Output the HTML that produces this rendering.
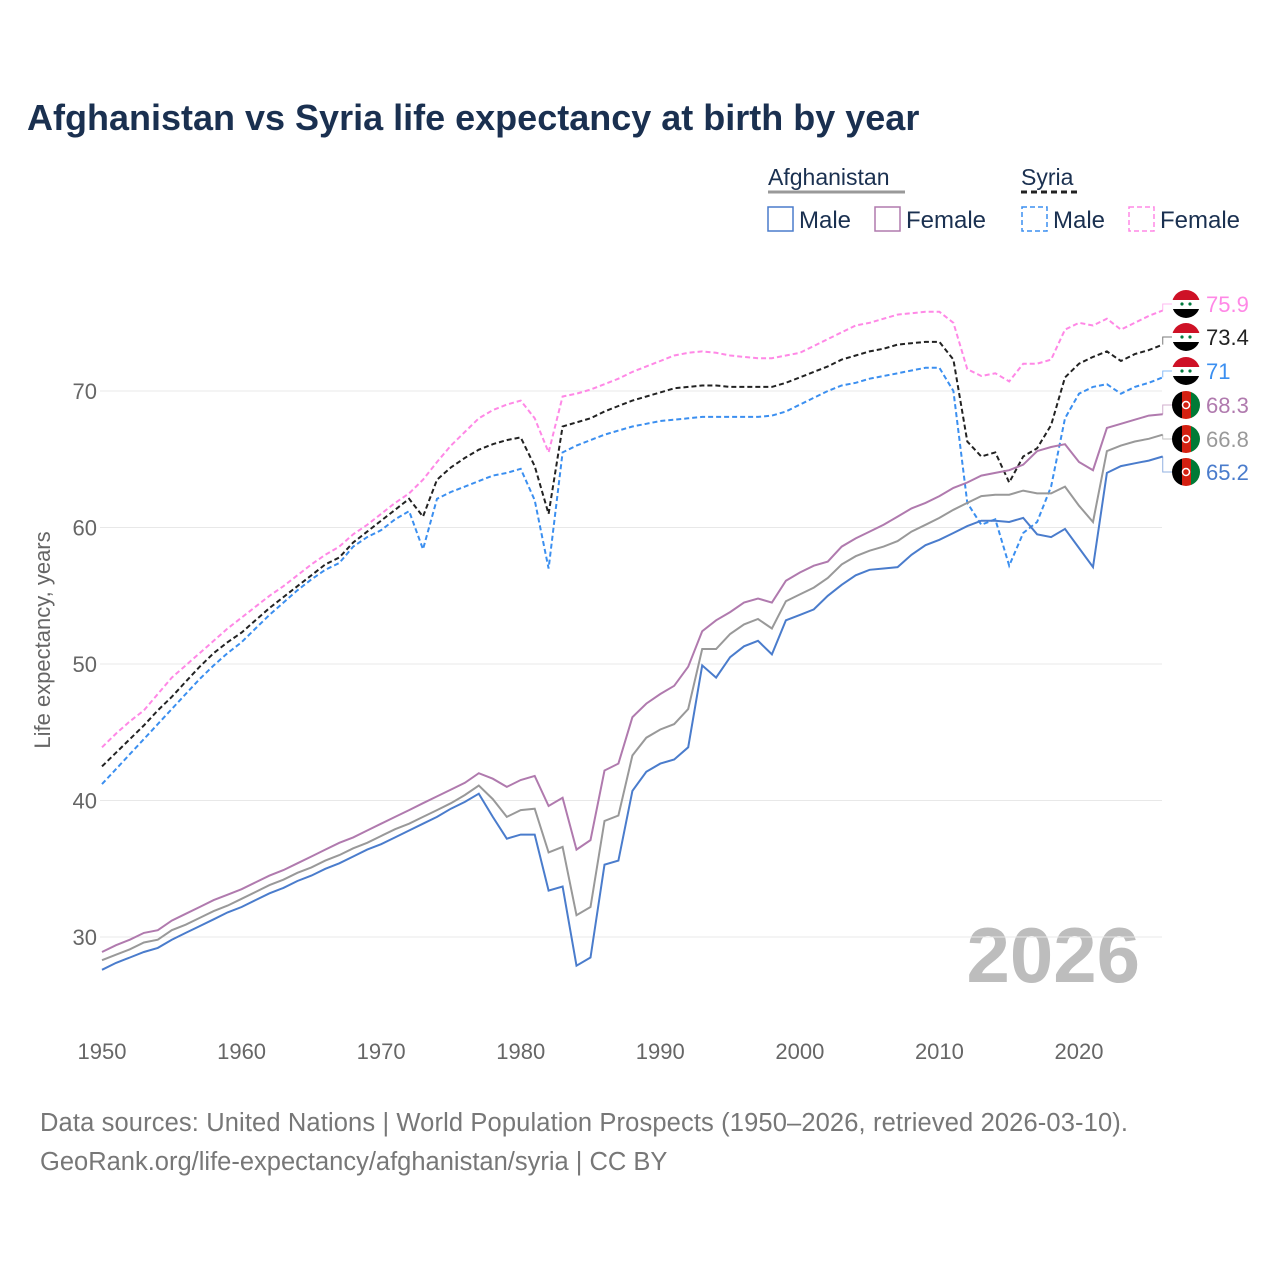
<!DOCTYPE html>
<html><head><meta charset="utf-8"><style>
body{margin:0;background:#fff;font-family:"Liberation Sans",sans-serif}
svg text{font-family:"Liberation Sans",sans-serif}
</style></head><body>
<svg id="chart" width="1280" height="1280" viewBox="0 0 1280 1280">
<text x="27" y="130" font-size="36" font-weight="bold" fill="#1a3050">Afghanistan vs Syria life expectancy at birth by year</text>
<g>
<text x="768" y="185" font-size="23" fill="#1a3050">Afghanistan</text>
<line x1="768" y1="192" x2="905" y2="192" stroke="#999" stroke-width="3"/>
<text x="1021" y="185" font-size="23" fill="#1a3050">Syria</text>
<line x1="1021" y1="192" x2="1078" y2="192" stroke="#222" stroke-width="3" stroke-dasharray="6,4"/>
<rect x="768" y="207" width="25" height="24" fill="none" stroke="#4a7ccc" stroke-width="1.5"/>
<text x="799" y="228" font-size="24" fill="#1a3050">Male</text>
<rect x="875" y="207" width="25" height="24" fill="none" stroke="#b07aae" stroke-width="1.5"/>
<text x="906" y="228" font-size="24" fill="#1a3050">Female</text>
<rect x="1022" y="207" width="25" height="24" fill="none" stroke="#3b8ff0" stroke-width="1.5" stroke-dasharray="5,3"/>
<text x="1053" y="228" font-size="24" fill="#1a3050">Male</text>
<rect x="1129" y="207" width="25" height="24" fill="none" stroke="#ff88e6" stroke-width="1.5" stroke-dasharray="5,3"/>
<text x="1160" y="228" font-size="24" fill="#1a3050">Female</text>
</g>
<text transform="translate(50,640) rotate(-90)" text-anchor="middle" font-size="22" fill="#666">Life expectancy, years</text>
<text x="1140" y="982" text-anchor="end" font-size="78" font-weight="bold" fill="#bdbdbd">2026</text>
<g id="grid"></g><g id="series"></g><g id="labels"></g>
<text x="40" y="1131" font-size="25.5" fill="#777" textLength="1088">Data sources: United Nations | World Population Prospects (1950–2026, retrieved 2026-03-10).</text>
<text x="40" y="1170" font-size="25.5" fill="#777">GeoRank.org/life-expectancy/afghanistan/syria | CC BY</text>
</svg>
<script>
const yTicks=[30,40,50,60,70];
const xTicks=[1950,1960,1970,1980,1990,2000,2010,2020];
const startYear=1950;
const syriaFemale=[43.9,44.9,45.8,46.6,47.8,49.0,49.9,50.8,51.7,52.6,53.4,54.2,55.0,55.7,56.5,57.3,58.0,58.6,59.5,60.2,61.0,61.8,62.5,63.5,64.8,66.0,67.0,68.0,68.6,69.0,69.3,68.0,65.5,69.6,69.8,70.1,70.5,70.9,71.4,71.8,72.2,72.6,72.8,72.9,72.8,72.6,72.5,72.4,72.4,72.6,72.8,73.3,73.8,74.3,74.8,75.0,75.3,75.6,75.7,75.8,75.8,75.0,71.6,71.1,71.3,70.7,72.0,72.0,72.3,74.5,75.0,74.8,75.3,74.5,75.0,75.5,75.9];
const syriaTotal=[42.5,43.5,44.5,45.5,46.6,47.6,48.7,49.8,50.8,51.6,52.3,53.2,54.1,54.9,55.7,56.5,57.3,57.8,58.9,59.7,60.5,61.3,62.1,60.8,63.5,64.4,65.1,65.7,66.1,66.4,66.6,64.5,61.0,67.4,67.7,68.0,68.5,68.9,69.3,69.6,69.9,70.2,70.3,70.4,70.4,70.3,70.3,70.3,70.3,70.6,71.0,71.4,71.8,72.3,72.6,72.9,73.1,73.4,73.5,73.6,73.6,72.3,66.3,65.2,65.5,63.3,65.2,65.8,67.5,71.0,72.0,72.5,72.9,72.2,72.7,73.0,73.4];
const syriaMale=[41.2,42.3,43.4,44.5,45.6,46.7,47.8,48.9,49.9,50.8,51.6,52.6,53.6,54.5,55.4,56.2,56.9,57.4,58.6,59.3,59.8,60.6,61.2,58.4,62.1,62.6,63.0,63.4,63.8,64.0,64.3,62.0,57.0,65.5,66.0,66.4,66.8,67.1,67.4,67.6,67.8,67.9,68.0,68.1,68.1,68.1,68.1,68.1,68.2,68.5,69.0,69.5,70.0,70.4,70.6,70.9,71.1,71.3,71.5,71.7,71.7,70.0,61.8,60.2,60.6,57.2,59.6,60.4,63.0,68.0,69.8,70.3,70.5,69.8,70.3,70.6,71.0];
const afgFemale=[28.9,29.4,29.8,30.3,30.5,31.2,31.7,32.2,32.7,33.1,33.5,34.0,34.5,34.9,35.4,35.9,36.4,36.9,37.3,37.8,38.3,38.8,39.3,39.8,40.3,40.8,41.3,42.0,41.6,41.0,41.5,41.8,39.6,40.2,36.4,37.1,42.2,42.7,46.1,47.1,47.8,48.4,49.8,52.4,53.2,53.8,54.5,54.8,54.5,56.1,56.7,57.2,57.5,58.6,59.2,59.7,60.2,60.8,61.4,61.8,62.3,62.9,63.3,63.8,64.0,64.2,64.6,65.6,65.9,66.1,64.8,64.2,67.3,67.6,67.9,68.2,68.3];
const afgTotal=[28.3,28.7,29.1,29.6,29.8,30.5,30.9,31.4,31.9,32.3,32.8,33.3,33.8,34.2,34.7,35.1,35.6,36.0,36.5,36.9,37.4,37.9,38.3,38.8,39.3,39.8,40.4,41.1,40.1,38.8,39.3,39.4,36.2,36.6,31.6,32.2,38.5,38.9,43.3,44.6,45.2,45.6,46.7,51.1,51.1,52.2,52.9,53.3,52.6,54.6,55.1,55.6,56.3,57.3,57.9,58.3,58.6,59.0,59.7,60.2,60.7,61.3,61.8,62.3,62.4,62.4,62.7,62.5,62.5,63.0,61.6,60.4,65.6,66.0,66.3,66.5,66.8];
const afgMale=[27.6,28.1,28.5,28.9,29.2,29.8,30.3,30.8,31.3,31.8,32.2,32.7,33.2,33.6,34.1,34.5,35.0,35.4,35.9,36.4,36.8,37.3,37.8,38.3,38.8,39.4,39.9,40.5,38.8,37.2,37.5,37.5,33.4,33.7,27.9,28.5,35.3,35.6,40.7,42.1,42.7,43.0,43.9,49.9,49.0,50.5,51.3,51.7,50.7,53.2,53.6,54.0,55.0,55.8,56.5,56.9,57.0,57.1,58.0,58.7,59.1,59.6,60.1,60.5,60.5,60.4,60.7,59.5,59.3,59.9,58.5,57.1,64.0,64.5,64.7,64.9,65.2];

const NS="http://www.w3.org/2000/svg";
const xS=y=>102+(y-1950)*(1079-102)/70;
const yS=v=>391+(70-v)*(937-391)/40;
function mk(t,a,p){const e=document.createElementNS(NS,t);for(const k in a)e.setAttribute(k,a[k]);p.appendChild(e);return e;}
const grid=document.getElementById('grid');
yTicks.forEach(t=>{
  const l=mk('line',{x1:100,x2:1162,y1:yS(t),y2:yS(t),stroke:'#e8e8e8','stroke-width':1},grid);
  
  
  const tx=mk('text',{x:97,y:yS(t)+8,'text-anchor':'end','font-size':22,fill:'#666'},grid);
  tx.textContent=t;
  
  
});
xTicks.forEach(t=>{
  const tx=mk('text',{x:xS(t),y:1059,'text-anchor':'middle','font-size':22,fill:'#666'},grid);
  tx.textContent=t;
  
  
});
const series=[
 {n:'syria-female',d:syriaFemale,c:'#ff88e6',dash:'5,3',ly:304,flag:'sy'},
 {n:'syria-total',d:syriaTotal,c:'#222',dash:'5,3',ly:337,flag:'sy'},
 {n:'syria-male',d:syriaMale,c:'#3b8ff0',dash:'5,3',ly:371,flag:'sy'},
 {n:'afghanistan-female',d:afgFemale,c:'#b07aae',dash:'',ly:405,flag:'af'},
 {n:'afghanistan-total',d:afgTotal,c:'#999',dash:'',ly:439,flag:'af'},
 {n:'afghanistan-male',d:afgMale,c:'#4a7ccc',dash:'',ly:472,flag:'af'}];
const sg=document.getElementById('series'),lg=document.getElementById('labels');
series.forEach(s=>{
  const pts=s.d.map((v,i)=>xS(startYear+i).toFixed(1)+','+yS(v).toFixed(1)).join(' ');
  const pl=mk('polyline',{points:pts,fill:'none',stroke:s.c,'stroke-width':2,'stroke-dasharray':s.dash},sg);
  
  
  const last=s.d[s.d.length-1],lx=xS(startYear+s.d.length-1),ly=yS(last);
  mk('polyline',{points:`${lx},${ly} ${lx},${s.ly} 1172,${s.ly}`,fill:'none',stroke:s.c,'stroke-width':1,opacity:0.6},lg);
  const g=mk('g',{},lg);
  
  
  const cx=1186,cy=s.ly,r=14;
  const id='clip-'+s.n;
  const cp=mk('clipPath',{id:id},g);mk('circle',{cx:cx,cy:cy,r:r},cp);
  const fg=mk('g',{'clip-path':`url(#${id})`},g);
  if(s.flag==='sy'){
    mk('rect',{x:cx-r,y:cy-r,width:28,height:10,fill:'#ce1126'},fg);
    mk('rect',{x:cx-r,y:cy-4,width:28,height:9,fill:'#fff'},fg);
    mk('rect',{x:cx-r,y:cy+5,width:28,height:10,fill:'#000'},fg);
    mk('circle',{cx:cx-4,cy:cy,r:1.6,fill:'#007a3d'},fg);mk('circle',{cx:cx+4,cy:cy,r:1.6,fill:'#007a3d'},fg);
  }else{
    mk('rect',{x:cx-r,y:cy-r,width:10,height:28,fill:'#000'},fg);
    mk('rect',{x:cx-4,y:cy-r,width:9,height:28,fill:'#d32011'},fg);
    mk('rect',{x:cx+5,y:cy-r,width:10,height:28,fill:'#007a36'},fg);
    mk('circle',{cx:cx,cy:cy,r:3.5,fill:'none',stroke:'#fff','stroke-width':1.5},fg);
  }
  const t=mk('text',{x:1206,y:s.ly+8,'font-size':22,fill:s.c},lg);
  t.textContent=last;
  
  
});
</script>
</body></html>
